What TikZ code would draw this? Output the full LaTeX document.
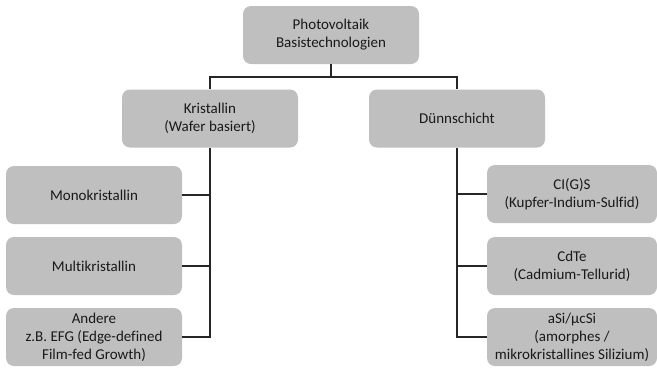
\documentclass[tikz,border=0pt]{standalone}
\usepackage{fontspec}
\setmainfont[Ligatures=CommonOff]{Carlito}
\begin{document}
\begin{tikzpicture}[x=1pt,y=-1pt,
  box/.style={draw=none, fill=boxgray, rounded corners=8pt, align=center,
    minimum width=176pt, minimum height=58pt, inner sep=0pt,
    font=\fontsize{15}{18}\selectfont, text=black!90},
  link/.style={draw=black!85, line width=1.1pt}]
\definecolor{boxgray}{HTML}{BFBFBF}
\useasboundingbox (0,0) rectangle (657,368);
% root
\node[box] (root) at (331,35) {Photovoltaik\\Basistechnologien};
% level 1
\node[box] (kri) at (210,118.5) {Kristallin\\(Wafer basiert)};
\node[box] (dun) at (457,118.5) {Dünnschicht};
% crystalline branch
\node[box] (mono) at (94,195) {Monokristallin};
\node[box] (multi) at (94,266) {Multikristallin};
\node[box] (andere) at (94,337) {Andere\\z.B. EFG (Edge-defined\\Film-fed Growth)};
% thin-film branch
\node[box, minimum width=170pt] (cigs) at (572,194) {CI(G)S\\(Kupfer-Indium-Sulfid)};
\node[box, minimum width=170pt] (cdte) at (572,266) {CdTe\\(Cadmium-Tellurid)};
\node[box, minimum width=170pt] (asi) at (572,337) {aSi/µcSi\\(amorphes /\\mikrokristallines Silizium)};
% connectors
\coordinate (bus) at (331,77);
\draw[link] (root.south) -- (root.south |- bus);
\draw[link] (kri.north) -- (kri.north |- bus) -- (dun.north |- bus) -- (dun.north);
\draw[link] (kri.south) -- (kri.south |- andere.east) -- (andere.east);
\draw[link] (kri.south |- mono.east) -- (mono.east);
\draw[link] (kri.south |- multi.east) -- (multi.east);
\draw[link] (dun.south) -- (dun.south |- asi.west) -- (asi.west);
\draw[link] (dun.south |- cigs.west) -- (cigs.west);
\draw[link] (dun.south |- cdte.west) -- (cdte.west);
\end{tikzpicture}
\end{document}
